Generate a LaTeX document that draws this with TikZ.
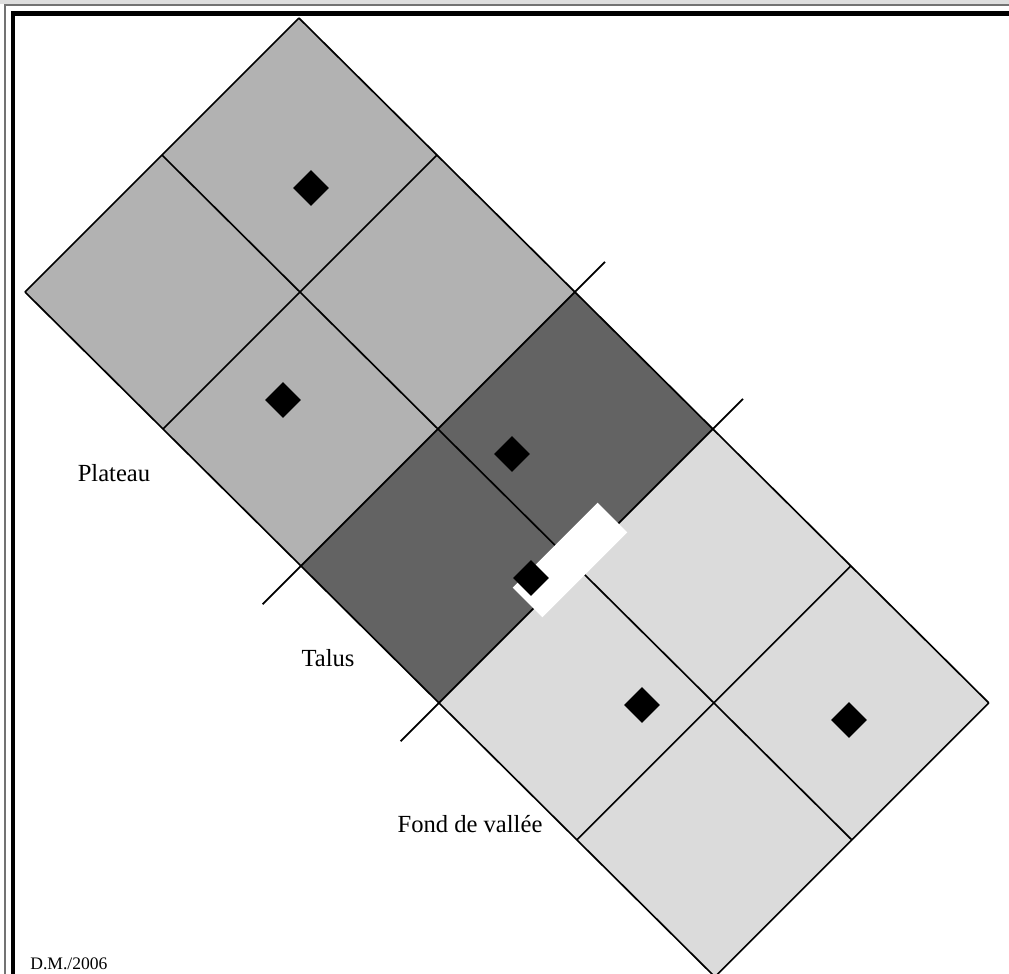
\documentclass[tikz,border=0pt]{standalone}
\usepackage{fontspec}
\setmainfont{Liberation Serif}
\usetikzlibrary{shapes.geometric}
\definecolor{cplateau}{gray}{0.70}
\definecolor{ctalus}{gray}{0.39}
\definecolor{cfond}{gray}{0.86}
\definecolor{cband}{gray}{0.87}
\definecolor{cthin}{gray}{0.45}

\begin{document}
\begin{tikzpicture}[x=0.02cm, y=-0.02cm,
    every node/.style={font=\fontsize{14}{16}\selectfont},
    cellline/.style={line width=0.95pt, black},
    point/.style={diamond, fill=black, inner sep=0pt, minimum width=0.72cm, minimum height=0.72cm},
    gap/.style={rectangle, fill=white, inner sep=0pt, minimum width=2.4cm, minimum height=0.84cm},
    zone/.style={anchor=base}
]
\useasboundingbox (0,0) rectangle (1009,974);

%% Frame
\fill[cband] (0,0) rectangle (1009,4);
\draw[cthin, line width=0.8pt] (5,974) -- (5,5) -- (1009,5);
\draw[black, line width=0.1cm] (13,974) -- (13,13) -- (1009,13);

%% Cells (i: down-right, j: up-right)
\begin{scope}[shift={(25,292)}, x={(2.76cm,-2.74cm)}, y={(2.74cm,2.74cm)}]
\fill[cplateau] (0,0) -- (2,0) -- (2,2) -- (0,2) -- cycle;
\fill[ctalus] (2,0) -- (3,0) -- (3,2) -- (2,2) -- cycle;
\fill[cfond] (3,0) -- (5,0) -- (5,2) -- (3,2) -- cycle;
\foreach \i in {0,1,4,5}
    \draw[cellline] (\i,0) -- (\i,2);
%% Zone limits, extended
\foreach \i in {2,3}
    \draw[cellline] (\i,-0.28) -- (\i,2.22);
\foreach \j in {0,1,2}
    \draw[cellline] (0,\j) -- (5,\j);
\end{scope}

%% Gap
\node[gap, rotate=45] (breche) at (570,560) {};

%% Points
\node[point] (p1) at (311,188) {};
\node[point] (p2) at (283,400) {};
\node[point] (p3) at (512,454) {};
\node[point] (p4) at (531,578) {};
\node[point] (p5) at (642,705) {};
\node[point] (p6) at (849,720) {};

%% Labels
\node[zone] (plateau) at (114,481) {Plateau};
\node[zone] (talus) at (328,666) {Talus};
\node[zone] (fond) at (470,832) {Fond de vallée};
\node[anchor=base west, inner sep=0pt, font=\fontsize{10}{12}\selectfont] (auteur) at (30,969) {D.M./2006};
\end{tikzpicture}
\end{document}
